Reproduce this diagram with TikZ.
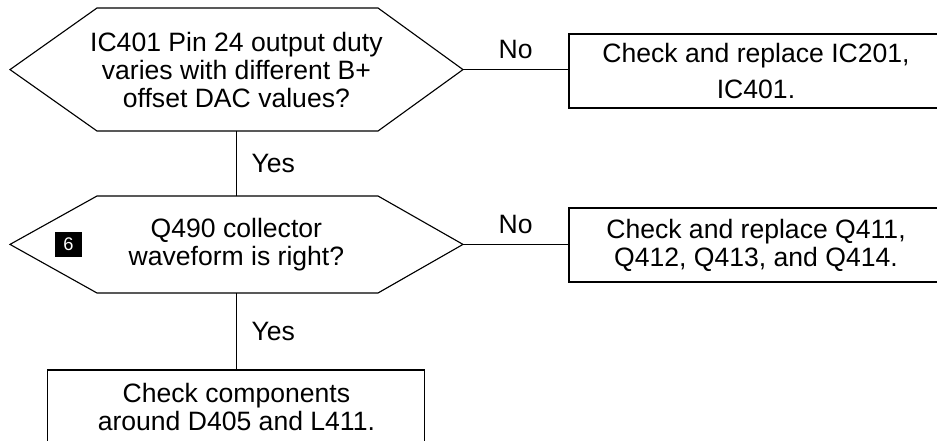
\documentclass[tikz,border=0pt]{standalone}
\usepackage{fontspec}
\setmainfont{Liberation Sans}
\usepackage{tikz}

\begin{document}
\begin{tikzpicture}[every node/.style={font=\fontsize{18.9}{19.9}\selectfont},
	line/.style={draw=black, line width=0.8pt},
	box/.style={line, minimum width=9.35cm, minimum height=1.85cm, align=center, inner sep=0pt},
	qtext/.style={align=center, inner sep=0pt}]
	\clip (0,0) rectangle (23.425,-11.025);
	\begin{scope}
		\coordinate (q1w) at (0.25,-1.74);
		\coordinate (q1e) at (11.575,-1.74);
		\coordinate (q1s) at (5.91,-3.275);
		\draw[line] (q1w) -- (2.425,-0.2) -- (9.45,-0.2) -- (q1e) -- (9.45,-3.275) -- (2.425,-3.275) -- cycle;
		\node[qtext] (q1) at (5.91,-1.74) {IC401 Pin 24 output duty\\varies with different B+\\offset DAC values?};
		\node[box] (r1) at (18.9,-1.775) {Check and replace IC201,\\[6pt]IC401.};
		\draw[line] (q1e) -- node[above=4pt] {No} (q1e -| r1.west);
	\end{scope}
	\begin{scope}
		\coordinate (q2w) at (0.25,-6.11);
		\coordinate (q2e) at (11.575,-6.11);
		\coordinate (q2n) at (5.91,-4.9);
		\coordinate (q2s) at (5.91,-7.325);
		\draw[line] (q2w) -- (2.425,-4.9) -- (9.45,-4.9) -- (q2e) -- (9.45,-7.325) -- (2.425,-7.325) -- cycle;
		\node[qtext] (q2) at (5.91,-6.11) {Q490 collector\\waveform is right?};
		\node[fill=black, text=white, minimum width=0.675cm, minimum height=0.625cm, inner sep=0pt, font=\fontsize{13}{13}\selectfont] (b6) at (1.71,-6.11) {6};
		\node[box] (r2) at (18.9,-6.125) {Check and replace Q411,\\Q412, Q413, and Q414.};
		\draw[line] (q2e) -- node[above=4pt] {No} (q2e -| r2.west);
	\end{scope}
	\draw[line] (q1s) -- node[right=0.25cm] {Yes} (q2n);
	\node[box, minimum width=9.425cm] (r3) at (5.91,-10.175) {Check components\\around D405 and L411.};
	\draw[line] (q2s) -- node[right=0.25cm] {Yes} (r3.north);
\end{tikzpicture}
\end{document}
